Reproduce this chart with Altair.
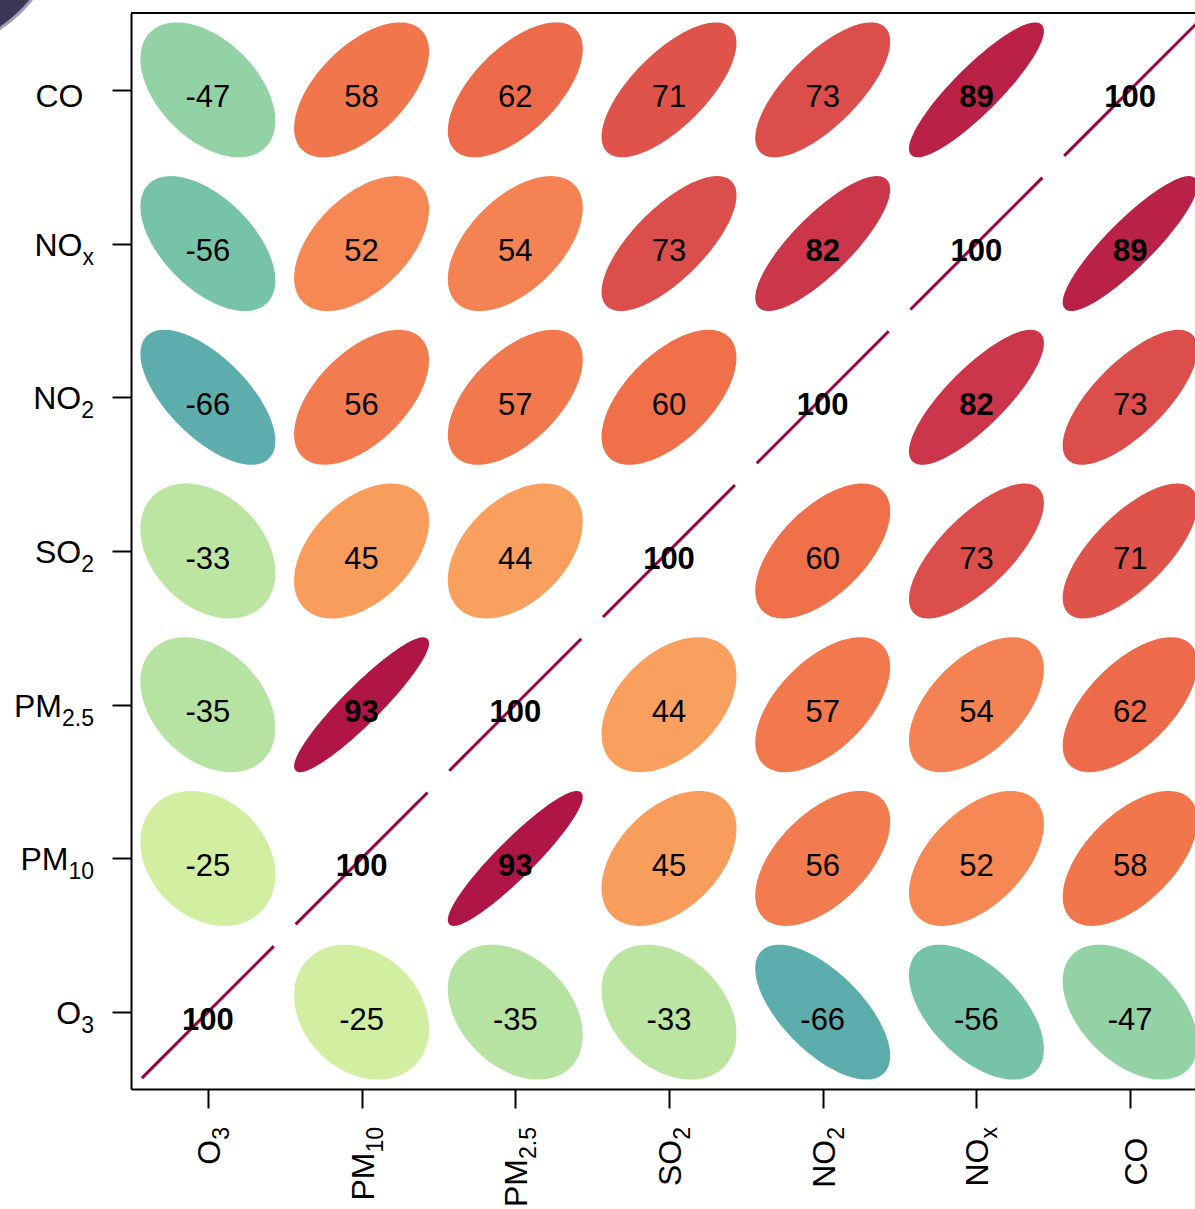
import math
import pandas as pd
import altair as alt

# Pollutants in axis order (x left->right, y bottom->top)
variables = ["O3", "PM10", "PM2.5", "SO2", "NO2", "NOx", "CO"]
label_main = ["O", "PM", "PM", "SO", "NO", "NO", "CO"]
label_sub = ["3", "10", "2.5", "2", "2", "x", ""]

# Pearson correlations (x100); row k = variables[k], column m = variables[m]
corr_O3 = [100, -25, -35, -33, -66, -56, -47]
corr_PM10 = [-25, 100, 93, 45, 56, 52, 58]
corr_PM25 = [-35, 93, 100, 44, 57, 54, 62]
corr_SO2 = [-33, 45, 44, 100, 60, 73, 71]
corr_NO2 = [-66, 56, 57, 60, 100, 82, 73]
corr_NOx = [-56, 52, 54, 73, 82, 100, 89]
corr_CO = [-47, 58, 62, 71, 73, 89, 100]
corr = [corr_O3, corr_PM10, corr_PM25, corr_SO2, corr_NO2, corr_NOx, corr_CO]

PLOT_H = 1076
PLOT_W = 1064
N = len(variables)
CELL = PLOT_H / N
FONT = "Liberation Sans"
BOLD_AT = 80

# ellipse::ellipse(r, level = 0.9, scale = c(.2, .2)) half-width, in cell units
S = 0.2 * math.sqrt(-2 * math.log(1 - 0.9))

cells, ell_rows, diag_rows = [], [], []
for yi in range(N):
    for xi in range(N):
        r = corr[yi][xi]
        cid = f"c{xi}_{yi}"
        cx, cy = xi + 1, yi + 1
        cells.append({"xi": cx, "yi": cy, "r": r, "label": str(r), "cell": cid})
        if r == 100:
            diag_rows.append({"px": cx - S, "py": cy - S, "cell": cid})
            diag_rows.append({"px": cx + S, "py": cy + S, "cell": cid})
            continue
        rr = r / 100.0
        npts = 90
        for k in range(npts + 1):
            u = -math.cos(math.pi * k / npts)
            half = math.sqrt(max(0.0, (1 - rr * rr) * (1 - u * u)))
            ell_rows.append({
                "px": cx + S * u,
                "lo": cy + S * (rr * u - half),
                "hi": cy + S * (rr * u + half),
                "r": r, "cell": cid,
            })

cells_df = pd.DataFrame(cells)
ell_df = pd.DataFrame(ell_rows)
diag_df = pd.DataFrame(diag_rows)

xs = alt.Scale(domain=[0.5, 0.5 + PLOT_W / CELL], nice=False, zero=False)
ys = alt.Scale(domain=[0.5, N + 0.5], nice=False, zero=False)
cs = alt.Scale(scheme="spectral", reverse=True, domain=[-100, 100])

axis_common = dict(values=list(range(1, N + 1)), labels=False, title=None, grid=False,
                   ticks=True, tickSize=19, tickWidth=2, tickColor="black",
                   domainColor="black", domainWidth=2)
x_axis = alt.Axis(orient="bottom", **axis_common)
y_axis = alt.Axis(orient="left", **axis_common)


def X(field):
    return alt.X(field, scale=xs, axis=x_axis, title=None)


def Y(field):
    return alt.Y(field, scale=ys, axis=y_axis, title=None)


# filled ellipses, outlined in their own colour
ellipses = alt.Chart(ell_df).mark_area(orient="vertical", clip=True, strokeWidth=3,
                                       strokeJoin="round").encode(
    x=X("px:Q"),
    y=Y("lo:Q"),
    y2="hi:Q",
    color=alt.Color("r:Q", scale=cs, legend=None),
    stroke=alt.Stroke("r:Q", scale=cs, legend=None),
    detail="cell:N",
)

diagonal = alt.Chart(diag_df).mark_line(color="#9e0142", strokeWidth=3, clip=True).encode(
    x=X("px:Q"),
    y=Y("py:Q"),
    detail="cell:N",
)

num_base = alt.Chart(cells_df).encode(x=X("xi:Q"), y=Y("yi:Q"), text="label:N")
numbers = num_base.mark_text(font=FONT, fontSize=31, dy=17.5, align="center",
                             baseline="alphabetic", color="black").transform_filter(
    f"abs(datum.r) < {BOLD_AT}")
numbers_bold = num_base.mark_text(font=FONT, fontSize=31, dy=17.5, align="center",
                                  baseline="alphabetic", color="black",
                                  fontWeight="bold").transform_filter(
    f"abs(datum.r) >= {BOLD_AT}")

# axis labels with subscripts
lab_df = pd.DataFrame({"idx": list(range(1, N + 1)), "main": label_main, "sub": label_sub})
MAIN_FS, SUB_FS = 32, 23
adv = {"0": .556, "1": .556, "2": .556, "3": .556, "5": .556, ".": .278, "x": .5}

label_layers = []
for i in range(N):
    sub = label_sub[i]
    subw = sum(adv[c] for c in sub) * SUB_FS
    one = alt.Chart(lab_df).transform_filter(f"datum.idx == {i + 1}")
    if sub:
        end, mdy = 37, 12
    else:
        end, mdy = 47.5, 17
    # y axis labels (left)
    label_layers.append(one.mark_text(font=FONT, fontSize=MAIN_FS, align="right",
                                      baseline="alphabetic", dx=-subw, dy=mdy,
                                      color="black").encode(
        x=alt.value(-end), y=Y("idx:Q"), text="main:N"))
    # x axis labels (bottom, rotated)
    label_layers.append(one.mark_text(font=FONT, fontSize=MAIN_FS, align="right",
                                      baseline="alphabetic", angle=270, dx=-subw, dy=mdy,
                                      color="black").encode(
        x=X("idx:Q"), y=alt.value(PLOT_H + end + 1), text="main:N"))
    if sub:
        label_layers.append(one.mark_text(font=FONT, fontSize=SUB_FS, align="right",
                                          baseline="alphabetic", dy=21,
                                          color="black").encode(
            x=alt.value(-end), y=Y("idx:Q"), text="sub:N"))
        label_layers.append(one.mark_text(font=FONT, fontSize=SUB_FS, align="right",
                                          baseline="alphabetic", angle=270, dy=21,
                                          color="black").encode(
            x=X("idx:Q"), y=alt.value(PLOT_H + end + 1), text="sub:N"))

frame_df = pd.DataFrame({"k": [0]})
top_line = alt.Chart(frame_df).mark_rule(color="black", strokeWidth=2).encode(
    x=alt.value(0), x2=alt.value(PLOT_W), y=alt.value(0))

corner = alt.Chart(frame_df).mark_circle(fill="#3b3756", stroke="#a39cb8", strokeWidth=3,
                                         opacity=1, fillOpacity=1, size=272 * 272).encode(
    x=alt.value(-131 - 75), y=alt.value(-13 - 85))

chart = alt.layer(ellipses, diagonal, numbers, numbers_bold, top_line, corner,
                  *label_layers).properties(
    width=PLOT_W, height=PLOT_H,
    autosize=alt.AutoSizeParams(type="none"),
    padding={"left": 131, "top": 13, "right": 0, "bottom": 120},
    background="white",
).configure_view(stroke=None)

chart.save("out.html", embed_options={"renderer": "svg", "actions": False})
